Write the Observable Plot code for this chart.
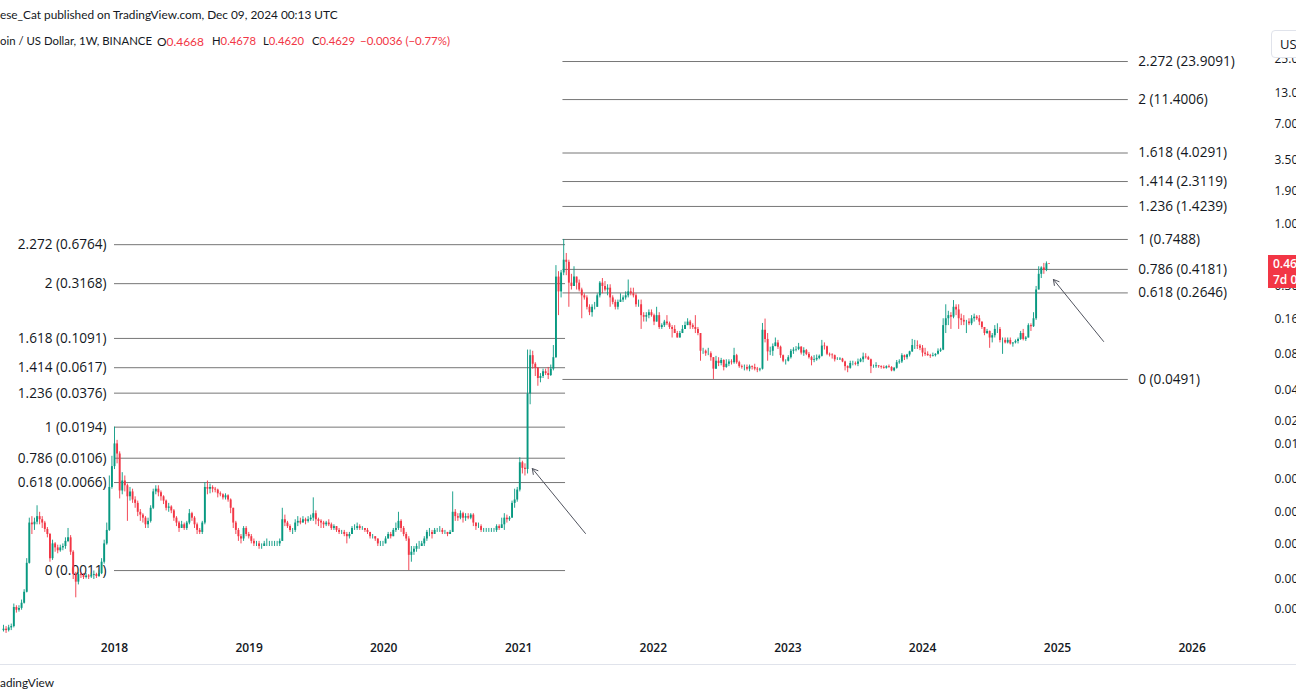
<!DOCTYPE html>
<html><head><meta charset="utf-8">
<script src="https://cdn.jsdelivr.net/npm/d3@7"></script>
<script src="https://cdn.jsdelivr.net/npm/@observablehq/plot@0.6"></script>
<style>
html,body{margin:0;padding:0;background:#fff;overflow:hidden}
#wrap{position:relative;width:1296px;height:700px;overflow:hidden;background:#fff;font-family:"Lato","Open Sans",sans-serif;color:#131722}
#chart{position:absolute;left:0;top:0}
.ov{position:absolute;white-space:nowrap}
#us{left:1271px;top:30px;width:50px;height:28px;border:1px solid #e0e3eb;border-radius:4px;background:#fff;font:13px "Open Sans",sans-serif;line-height:26px;padding-left:8px;box-sizing:border-box}
#price{left:1268px;top:255px;width:40px;height:33px;background:#f23645;color:#fff;font:600 12px "Open Sans",sans-serif;line-height:16px;padding:1px 0 0 5px;box-sizing:border-box}
</style></head><body>
<div id="wrap">
  <div id="chart"></div>
  <div class="ov" id="pub" style="left:0;top:7px;font-size:13px">ese_Cat published on TradingView.com, Dec 09, 2024 00:13 UTC</div>
  <div class="ov" id="sym" style="left:0;top:34px;font-size:13px">oin / US Dollar, 1W, BINANCE</div>
  <div id="legend"></div>
  <div class="ov" id="us">US</div>
  <div class="ov" id="price"></div>
  <div class="ov" style="left:0;top:664px;width:1296px;height:1px;background:#e0e3eb"></div>
  <div class="ov" id="foot" style="left:0;top:675px;font-size:13px">adingView</div>
</div>
<script>
// ---------------- data ----------------
const startWeek = "2017-03-06";   // first weekly bar shown
const firstOpen = 0.00037;
// weekly bars: [close, high, low]
const candles2017 = [
[0.00038,0.00041,0.00036],[0.00037,0.00040,0.00035],[0.00039,0.00041,0.00036],[0.00040,0.00042,0.00037],
[0.00058,0.00062,0.00039],[0.00055,0.00060,0.00052],[0.00057,0.00060,0.00053],[0.00063,0.00067,0.00055],
[0.00078,0.00082,0.00062],[0.00137,0.00150,0.00077],[0.00300,0.00330,0.00135],[0.00290,0.00340,0.00240],
[0.00305,0.00330,0.00260],[0.00340,0.00420,0.00290],[0.00320,0.00370,0.00290],[0.00300,0.00340,0.00270],
[0.00265,0.00310,0.00250],[0.00240,0.00275,0.00225],[0.00150,0.00245,0.00140],[0.00200,0.00215,0.00145],
[0.00185,0.00205,0.00170],[0.00175,0.00195,0.00165],[0.00185,0.00195,0.00170],[0.00190,0.00200,0.00175],
[0.00210,0.00225,0.00180],[0.00225,0.00270,0.00205],[0.00170,0.00235,0.00160],[0.00110,0.00175,0.00100],
[0.00095,0.00115,0.00070],[0.00110,0.00115,0.00090],[0.00108,0.00115,0.00102],[0.00104,0.00112,0.00100],
[0.00107,0.00112,0.00101],[0.00105,0.00110,0.00100],[0.00108,0.00113,0.00102],[0.00110,0.00118,0.00100],
[0.00106,0.00113,0.00102],[0.00112,0.00120,0.00104],[0.00140,0.00150,0.00110],[0.00200,0.00215,0.00135],
[0.00260,0.00300,0.00195],[0.00600,0.00750,0.00255],[0.00900,0.01100,0.00580]
];
const candles2018 = [
[0.01400,0.01940,0.00850],[0.01150,0.01500,0.00950],[0.00560,0.01200,0.00480],[0.00680,0.00800,0.00520],[0.00620,0.00750,0.00550],
[0.00500,0.00640,0.00310],[0.00550,0.00600,0.00460],[0.00470,0.00580,0.00440],[0.00440,0.00500,0.00400],
[0.00370,0.00460,0.00340],[0.00350,0.00390,0.00310],[0.00330,0.00360,0.00300],[0.00290,0.00340,0.00270],
[0.00310,0.00330,0.00270],[0.00400,0.00420,0.00300],[0.00550,0.00580,0.00390],[0.00580,0.00620,0.00520],[0.00540,0.00620,0.00500],
[0.00500,0.00560,0.00460],[0.00460,0.00510,0.00430],[0.00400,0.00470,0.00380],[0.00410,0.00440,0.00370],
[0.00380,0.00420,0.00360],[0.00330,0.00390,0.00310],[0.00300,0.00340,0.00280],[0.00270,0.00310,0.00250],
[0.00290,0.00310,0.00270],[0.00270,0.00300,0.00260],[0.00300,0.00310,0.00260],[0.00360,0.00390,0.00290],[0.00330,0.00370,0.00310],
[0.00290,0.00340,0.00270],[0.00260,0.00300,0.00240],[0.00250,0.00270,0.00240],[0.00300,0.00310,0.00240],
[0.00600,0.00660,0.00290],[0.00580,0.00680,0.00520],[0.00600,0.00640,0.00530],[0.00580,0.00620,0.00540],
[0.00570,0.00600,0.00540],[0.00530,0.00580,0.00490],[0.00520,0.00550,0.00500],[0.00490,0.00530,0.00470],[0.00510,0.00530,0.00470],
[0.00470,0.00520,0.00450],[0.00400,0.00480,0.00360],[0.00300,0.00400,0.00270],[0.00260,0.00310,0.00240],
[0.00230,0.00270,0.00210],[0.00220,0.00240,0.00200],[0.00270,0.00280,0.00210],[0.00240,0.00280,0.00230],[0.00230,0.00250,0.00220]
];
const candles2019 = [
[0.0021,0.0024,0.0020],[0.0020,0.0022,0.0019],[0.0020,0.0021,0.0019],[0.0019,0.0021,0.0018],
[0.0019,0.0020,0.0018],[0.0020,0.0021,0.0019],[0.0020,0.0022,0.0019],[0.0020,0.0021,0.0019],
[0.0020,0.0021,0.0019],[0.0020,0.0021,0.0019],[0.0020,0.0021,0.0019],[0.0021,0.0022,0.0019],
[0.0032,0.0040,0.0021],[0.0030,0.0035,0.0028],[0.0028,0.0031,0.0027],[0.0026,0.0029,0.0025],[0.0026,0.0027,0.0024],
[0.0030,0.0032,0.0025],[0.0031,0.0034,0.0028],[0.0030,0.0033,0.0029],[0.0032,0.0034,0.0030],
[0.0031,0.0033,0.0029],[0.0032,0.0034,0.0030],[0.0033,0.0035,0.0031],[0.0036,0.0049,0.0031],
[0.0032,0.0038,0.0029],[0.0031,0.0033,0.0028],[0.0030,0.0032,0.0027],[0.0029,0.0031,0.0027],[0.0030,0.0031,0.0028],
[0.0029,0.0032,0.0028],[0.0027,0.0030,0.0026],[0.0028,0.0029,0.0026],[0.0026,0.0028,0.0025],
[0.0025,0.0027,0.0024],[0.0025,0.0026,0.0024],[0.0024,0.0026,0.0023],[0.0023,0.0025,0.0020],[0.0024,0.0025,0.0022],
[0.0027,0.0028,0.0024],[0.0027,0.0029,0.0026],[0.0028,0.0030,0.0026],[0.0027,0.0029,0.0026],
[0.0027,0.0028,0.0026],[0.0026,0.0027,0.0025],[0.0025,0.0027,0.0024],[0.0023,0.0025,0.0022],
[0.0023,0.0024,0.0022],[0.0022,0.0023,0.0021],[0.0020,0.0022,0.0019],[0.0020,0.0021,0.0019],[0.0020,0.0021,0.0019]
];
const candles2020 = [
[0.0022,0.0023,0.0020],[0.0024,0.0025,0.0022],[0.0023,0.0025,0.0022],[0.0026,0.0027,0.0023],
[0.0027,0.0030,0.0025],[0.0031,0.0037,0.0026],[0.0027,0.0032,0.0025],[0.0024,0.0028,0.0023],
[0.0022,0.0025,0.0021],[0.0016,0.0023,0.00119],[0.0017,0.0019,0.0014],[0.0018,0.0019,0.0016],[0.0019,0.0020,0.0017],
[0.0019,0.0021,0.0018],[0.0020,0.0021,0.0019],[0.0022,0.0023,0.0019],[0.0025,0.0026,0.0021],
[0.0025,0.0027,0.0023],[0.0024,0.0026,0.0022],[0.0026,0.0027,0.0024],[0.0026,0.0027,0.0025],
[0.0026,0.0028,0.0025],[0.0025,0.0027,0.0024],[0.0025,0.0026,0.0024],[0.0024,0.0025,0.0023],[0.0025,0.0026,0.0024],
[0.0037,0.0055,0.0025],[0.0034,0.0039,0.0031],[0.0033,0.0036,0.0031],[0.0036,0.0038,0.0032],
[0.0033,0.0037,0.0030],[0.0034,0.0036,0.0031],[0.0033,0.0036,0.0032],[0.0035,0.0036,0.0032],[0.0030,0.0036,0.0028],
[0.0028,0.0030,0.0026],[0.0028,0.0030,0.0027],[0.0026,0.0029,0.0025],[0.0026,0.0027,0.0025],
[0.0026,0.0027,0.0025],[0.0026,0.0027,0.0025],[0.0026,0.0027,0.0025],[0.0026,0.0027,0.0025],
[0.0028,0.0029,0.0025],[0.0027,0.0029,0.0026],[0.0029,0.0033,0.0027],[0.0033,0.0036,0.0026],[0.0032,0.0035,0.0030],
[0.0033,0.0034,0.0031],[0.0044,0.0046,0.0033],[0.0047,0.0058,0.0040],[0.0057,0.0060,0.0045]
];
const candles2021 = [
[0.0097,0.0107,0.0055],[0.0087,0.0100,0.0078],[0.0085,0.0095,0.0075],[0.0370,0.0870,0.0078],
[0.078,0.087,0.030],[0.066,0.085,0.060],[0.061,0.068,0.052],[0.050,0.062,0.043],
[0.052,0.055,0.046],[0.057,0.060,0.050],[0.055,0.060,0.053],[0.053,0.062,0.049],
[0.060,0.065,0.052],[0.075,0.095,0.058],[0.36,0.45,0.074],[0.27,0.40,0.17],[0.39,0.41,0.24],
[0.50,0.7488,0.37],[0.48,0.57,0.37],[0.32,0.50,0.20],[0.30,0.38,0.28],
[0.36,0.44,0.30],[0.32,0.36,0.28],[0.28,0.34,0.27],[0.25,0.29,0.16],[0.24,0.26,0.23],
[0.20,0.25,0.19],[0.18,0.21,0.17],[0.20,0.21,0.165],[0.20,0.22,0.19],
[0.25,0.26,0.20],[0.32,0.33,0.24],[0.30,0.35,0.26],[0.28,0.33,0.27],[0.29,0.31,0.25],
[0.24,0.31,0.20],[0.22,0.25,0.21],[0.20,0.23,0.19],[0.22,0.23,0.19],
[0.23,0.26,0.22],[0.24,0.25,0.22],[0.25,0.27,0.23],[0.27,0.34,0.24],
[0.26,0.29,0.25],[0.25,0.29,0.24],[0.21,0.26,0.20],[0.21,0.23,0.20],[0.17,0.23,0.13],
[0.165,0.18,0.15],[0.17,0.18,0.15],[0.18,0.19,0.16],[0.17,0.19,0.165]
];
const candles2022 = [
[0.15,0.175,0.14],[0.17,0.20,0.15],[0.135,0.18,0.13],[0.14,0.145,0.13],[0.15,0.155,0.135],
[0.145,0.17,0.14],[0.135,0.15,0.13],[0.13,0.14,0.11],[0.12,0.14,0.12],
[0.11,0.125,0.11],[0.12,0.125,0.11],[0.13,0.14,0.12],[0.14,0.15,0.13],
[0.15,0.16,0.14],[0.14,0.155,0.13],[0.135,0.145,0.13],[0.13,0.17,0.12],
[0.12,0.135,0.115],[0.085,0.12,0.07],[0.085,0.09,0.08],[0.081,0.087,0.077],[0.081,0.09,0.078],
[0.075,0.084,0.07],[0.06,0.075,0.0491],[0.07,0.077,0.06],[0.067,0.075,0.063],
[0.071,0.074,0.064],[0.062,0.072,0.058],[0.066,0.072,0.061],[0.069,0.072,0.063],
[0.068,0.072,0.065],[0.078,0.09,0.066],[0.068,0.08,0.066],[0.063,0.07,0.061],[0.062,0.065,0.060],
[0.062,0.065,0.058],[0.060,0.065,0.058],[0.063,0.065,0.057],[0.062,0.064,0.059],
[0.060,0.066,0.058],[0.059,0.062,0.056],[0.060,0.061,0.057],[0.128,0.146,0.059],[0.107,0.159,0.10],
[0.084,0.12,0.07],[0.085,0.092,0.078],[0.093,0.098,0.077],[0.10,0.11,0.093],
[0.092,0.105,0.088],[0.078,0.094,0.074],[0.070,0.079,0.068],[0.070,0.072,0.065]
];
const candles2023 = [
[0.075,0.078,0.069],[0.085,0.088,0.073],[0.087,0.091,0.080],[0.088,0.093,0.084],[0.092,0.099,0.086],
[0.082,0.093,0.079],[0.086,0.091,0.077],[0.080,0.088,0.078],[0.075,0.083,0.073],
[0.071,0.077,0.064],[0.072,0.078,0.068],[0.074,0.079,0.070],[0.077,0.079,0.072],
[0.094,0.105,0.076],[0.093,0.100,0.087],[0.080,0.094,0.078],[0.079,0.082,0.076],
[0.078,0.081,0.073],[0.072,0.079,0.069],[0.072,0.075,0.071],[0.073,0.075,0.071],[0.069,0.074,0.068],
[0.063,0.070,0.058],[0.061,0.064,0.056],[0.067,0.070,0.060],[0.067,0.070,0.064],
[0.066,0.069,0.064],[0.069,0.073,0.063],[0.072,0.074,0.068],[0.076,0.082,0.068],[0.075,0.081,0.073],
[0.072,0.077,0.071],[0.063,0.073,0.055],[0.063,0.065,0.061],[0.064,0.068,0.061],
[0.063,0.064,0.061],[0.062,0.064,0.060],[0.061,0.064,0.060],[0.063,0.064,0.060],
[0.062,0.065,0.061],[0.058,0.063,0.057],[0.061,0.062,0.057],[0.068,0.071,0.060],[0.069,0.072,0.066],
[0.078,0.081,0.067],[0.075,0.079,0.071],[0.079,0.080,0.072],[0.084,0.085,0.076],
[0.095,0.107,0.083],[0.095,0.105,0.088],[0.094,0.104,0.088],[0.090,0.097,0.086]
];
const candles2024 = [
[0.082,0.095,0.076],[0.080,0.090,0.077],[0.078,0.084,0.077],[0.077,0.080,0.074],[0.078,0.082,0.076],
[0.080,0.081,0.076],[0.085,0.089,0.079],[0.087,0.090,0.083],[0.14,0.16,0.086],
[0.16,0.21,0.12],[0.17,0.185,0.14],[0.165,0.18,0.13],[0.20,0.228,0.16],
[0.19,0.21,0.17],[0.16,0.21,0.13],[0.155,0.175,0.14],[0.15,0.17,0.14],[0.15,0.155,0.12],
[0.145,0.16,0.14],[0.16,0.17,0.14],[0.165,0.175,0.15],[0.16,0.17,0.155],
[0.15,0.17,0.14],[0.135,0.15,0.13],[0.12,0.135,0.115],[0.125,0.13,0.118],
[0.11,0.126,0.09],[0.115,0.12,0.10],[0.13,0.14,0.11],[0.13,0.145,0.12],[0.105,0.135,0.10],
[0.105,0.11,0.08],[0.10,0.11,0.098],[0.105,0.11,0.098],[0.098,0.11,0.096],
[0.10,0.10,0.092],[0.103,0.106,0.098],[0.107,0.11,0.098],[0.12,0.125,0.105],[0.107,0.13,0.104],
[0.11,0.113,0.103],[0.14,0.145,0.11],[0.137,0.145,0.125],[0.16,0.18,0.135],
[0.28,0.30,0.155],[0.38,0.44,0.28],[0.43,0.44,0.35],[0.41,0.47,0.38],
[0.4668,0.484,0.40],[0.4629,0.4678,0.4620]
];
const yearTicks = [2018, 2019, 2020, 2021, 2022, 2023, 2024, 2025, 2026];
const rightTickValues = [25, 13, 7, 3.5, 1.9, 1, 0.5, 0.3, 0.16, 0.08, 0.04, 0.022, 0.014, 0.007, 0.0037, 0.002, 0.001, 0.00056];
const rightTickLabels = ["25.0000","13.0000","7.0000","3.5000","1.9000","1.0000","0.5000","0.3000","0.1600","0.0800","0.0400","0.0220","0.0140","0.0070","0.0037","0.0020","0.0010","0.0006"];
const leftFibLevels = [0.00119, 0.0066, 0.0106, 0.0194, 0.0376, 0.0617, 0.1091, 0.3168, 0.6764];
const leftFibLabels = ["0 (0.0011)","0.618 (0.0066)","0.786 (0.0106)","1 (0.0194)","1.236 (0.0376)","1.414 (0.0617)","1.618 (0.1091)","2 (0.3168)","2.272 (0.6764)"];
const rightFibLevels = [0.0491, 0.2646, 0.4181, 0.7488, 1.4239, 2.3119, 4.0291, 11.4006, 23.9091];
const rightFibLabels = ["0 (0.0491)","0.618 (0.2646)","0.786 (0.4181)","1 (0.7488)","1.236 (1.4239)","1.414 (2.3119)","1.618 (4.0291)","2 (11.4006)","2.272 (23.9091)"];
const leftFibSpan = ["2018-01-01", "2021-05-08"];
const rightFibSpan = ["2021-05-01", "2025-07-12"];
const arrowTails = [["2021-07-01", 0.00245], ["2025-05-06", 0.1028]];
const arrowHeads = [["2021-02-07", 0.00867], ["2024-12-21", 0.3435]];
const legendKeys = ["O", "H", "L", "C"];
const legendValues = ["0.4668", "0.4678", "0.4620", "0.4629"];
const legendChange = "\u22120.0036 (\u22120.77%)";
const countdown = "7d 0h";

// ---------------- build ----------------
const UP = "#089981", DOWN = "#f23645";
const DAY = 864e5;
const t0 = new Date(startWeek).getTime();
const weeks = [...candles2017, ...candles2018, ...candles2019, ...candles2020, ...candles2021, ...candles2022, ...candles2023, ...candles2024];
let prevClose = firstOpen;
const bars = weeks.map(([c, h, l], i) => {
  const o = prevClose; prevClose = c;
  return {date: new Date(t0 + i * 7 * DAY), open: o, close: c, high: Math.max(h, o, c), low: Math.min(l, o, c), up: c >= o};
});
const upBars = bars.filter(d => d.up), downBars = bars.filter(d => !d.up);
const D = s => new Date(s);
const leftFib = leftFibLevels.map((v, i) => ({v, label: leftFibLabels[i]}));
const rightFib = rightFibLevels.map((v, i) => ({v, label: rightFibLabels[i]}));
const arrows = arrowTails.map((t, i) => ({x1: D(t[0]), y1: t[1], x2: D(arrowHeads[i][0]), y2: arrowHeads[i][1]}));

// pixel layout of the log price scale (~134.7 px per year, ~118.3 px per decade)
const Y0 = 224.1, K = 118.3;
const ypx = p => Y0 - K * Math.log10(p);
const yDomain = [2e-4, 60];

const chart = Plot.plot({
  width: 1296, height: 700,
  marginTop: 0, marginLeft: 0, marginRight: 22, marginBottom: 49,
  style: {background: "transparent", overflow: "hidden", fontFamily: "'Open Sans', sans-serif", color: "#131722"},
  x: {type: "utc", domain: [D("2018-01-01"), D("2025-01-01")], range: [114, 1057], axis: null},
  y: {type: "log", domain: yDomain, range: yDomain.map(ypx), axis: null},
  marks: [
    Plot.ruleY(leftFib, {y: "v", x1: () => D(leftFibSpan[0]), x2: () => D(leftFibSpan[1]), stroke: "#767676", strokeWidth: 1}),
    Plot.ruleY(rightFib, {y: "v", x1: () => D(rightFibSpan[0]), x2: () => D(rightFibSpan[1]), stroke: "#767676", strokeWidth: 1}),
    Plot.text(leftFib, {y: "v", x: () => D(leftFibSpan[0]), text: "label", textAnchor: "end", dx: -8, fontSize: 13.6, fill: "#131722"}),
    Plot.text(rightFib, {y: "v", x: () => D(rightFibSpan[1]), text: "label", textAnchor: "start", dx: 10, fontSize: 13.6, fill: "#131722"}),
    Plot.ruleX(upBars, {x: "date", y1: "low", y2: "high", stroke: UP, strokeWidth: 0.9}),
    Plot.ruleX(downBars, {x: "date", y1: "low", y2: "high", stroke: DOWN, strokeWidth: 0.9}),
    Plot.ruleX(upBars, {x: "date", y1: "open", y2: "close", stroke: UP, strokeWidth: 1.9}),
    Plot.ruleX(downBars, {x: "date", y1: "open", y2: "close", stroke: DOWN, strokeWidth: 1.9}),
    Plot.arrow(arrows, {x1: "x1", y1: "y1", x2: "x2", y2: "y2", bend: 0, stroke: "#50535e", strokeWidth: 1, headLength: 9}),
    Plot.text(rightTickValues, {y: d => d, frameAnchor: "right", textAnchor: "start", text: (d, i) => rightTickLabels[i], fontSize: 12, fill: "#131722"}),
    Plot.text(yearTicks, {x: d => new Date(Date.UTC(d, 0, 1)), frameAnchor: "bottom", text: d => String(d), fontSize: 12, fontWeight: 600, fill: "#131722"})
  ]
});
document.getElementById("chart").appendChild(chart);

// fit a text element's width to the reference
function fit(el, target) {
  const w = el.getBoundingClientRect().width;
  const fs = parseFloat(getComputedStyle(el).fontSize);
  if (w > 0) el.style.fontSize = (fs * target / w) + "px";
}

// legend line (OHLC of the last bar)
const legend = document.getElementById("legend");
const legendX = [157, 212, 263, 312, 360];
const legendW = [47, 44, 41, 43, 90];
legendKeys.forEach((k, i) => {
  const s = document.createElement("div");
  s.className = "ov";
  s.style.cssText = `left:${legendX[i]}px;top:34px;font-size:13px`;
  s.innerHTML = `${k}<span style="color:${DOWN}">${legendValues[i]}</span>`;
  legend.appendChild(s);
  fit(s, legendW[i]);
});
const ch = document.createElement("div");
ch.className = "ov";
ch.style.cssText = `left:${legendX[4]}px;top:34px;font-size:13px;color:${DOWN}`;
ch.textContent = legendChange;
legend.appendChild(ch);
fit(ch, legendW[4]);

document.getElementById("price").innerHTML = `<div>${legendValues[3]}</div><div>${countdown}</div>`;

fit(document.getElementById("pub"), 338);
fit(document.getElementById("sym"), 152);
fit(document.getElementById("foot"), 54);
</script>
</body></html>
